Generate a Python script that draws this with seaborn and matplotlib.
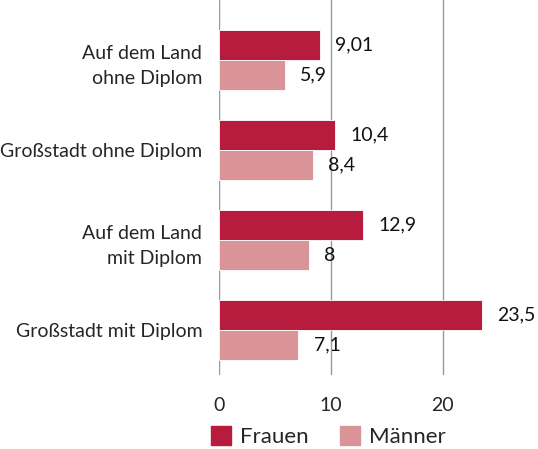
import pandas as pd
import matplotlib
matplotlib.use('Agg')
import matplotlib.pyplot as plt
import seaborn as sns
from matplotlib.patches import Patch

categories = ['Auf dem Land\nohne Diplom', 'Großstadt ohne Diplom',
              'Auf dem Land\nmit Diplom', 'Großstadt mit Diplom']
frauen = [9.01, 10.4, 12.9, 23.5]
maenner = [5.9, 8.4, 8, 7.1]
frauen_labels = ['9,01', '10,4', '12,9', '23,5']
maenner_labels = ['5,9', '8,4', '8', '7,1']
series = ['Frauen', 'Männer']
colors = ['#B71C3F', '#DA9497']

df = pd.DataFrame({
    'kategorie': categories * 2,
    'wert': frauen + maenner,
    'gruppe': ['Frauen'] * 4 + ['Männer'] * 4,
})

sns.set_style('white')
plt.rcParams['font.family'] = ['Lato', 'DejaVu Sans']

fig = plt.figure(figsize=(5.38, 4.49), dpi=100)
ax = fig.add_axes([0.407, 0.165, 0.593, 0.835])

sns.barplot(data=df, y='kategorie', x='wert', hue='gruppe', palette=colors,
            width=0.67, orient='h', ax=ax, legend=False, saturation=1,
            edgecolor='white', linewidth=0.6)

# value labels
for cont, labs in zip(ax.containers, [frauen_labels, maenner_labels]):
    ax.bar_label(cont, labels=labs, padding=11, fontsize=14, color='#111111')

ax.set_xlim(0, 28.5)
ax.set_ylim(3.5, -0.67)
ax.set_xticks([0, 10, 20])
ax.grid(axis='x', color='#999999', linewidth=1)
ax.set_axisbelow(True)
for s in ax.spines.values():
    s.set_visible(False)
ax.set_xlabel('')
ax.set_ylabel('')
ax.tick_params(axis='x', length=10, color='#999999', labelsize=14, pad=6)
ax.tick_params(axis='y', length=0, labelsize=14, pad=12)
for t in ax.get_yticklabels():
    t.set_horizontalalignment('right')
    t.set_multialignment('right')
    t.set_linespacing(1.6)

handles = [Patch(color=c, label=l) for c, l in zip(colors, series)]
fig.legend(handles=handles, loc='center', bbox_to_anchor=(0.61, 0.027), ncol=2,
           frameon=False, fontsize=16, handlelength=0.9, handleheight=0.9,
           handletextpad=0.4, columnspacing=1.4, borderaxespad=0)

fig.savefig('out.png', dpi=100)
